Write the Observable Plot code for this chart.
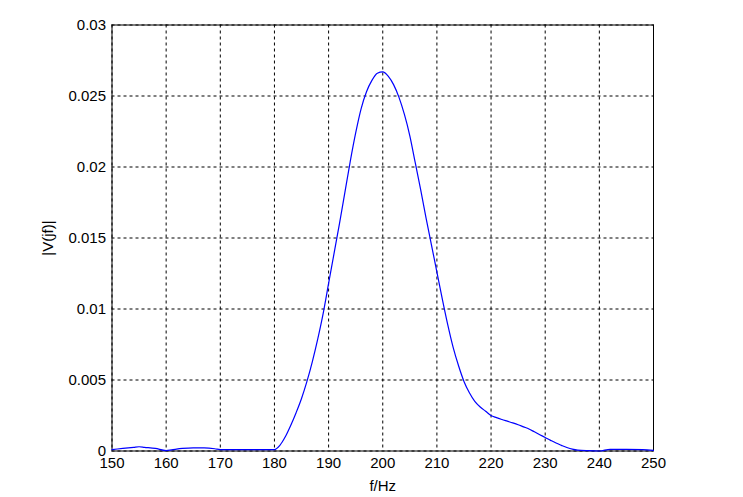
<!DOCTYPE html>
<html>
<head>
<meta charset="utf-8">
<script src="https://cdn.jsdelivr.net/npm/d3@7"></script>
<script src="https://cdn.jsdelivr.net/npm/@observablehq/plot@0.6"></script>
<style>
  html, body { margin: 0; padding: 0; background: #fff; }
  svg { display: block; }
</style>
</head>
<body>
<div id="chart"></div>
<script>
const freqs = [150, 152, 154, 155, 156, 158, 160, 161, 163, 165, 167, 169, 170, 172, 175, 178, 180,
  181, 182, 183, 184, 185, 186, 187, 188, 189, 190, 191, 192, 193, 194, 195, 196, 197, 198, 199, 200,
  201, 202, 203, 204, 205, 206, 207, 208, 209, 210, 211, 212, 213, 214, 215, 216, 217, 218, 219, 220,
  221, 222, 223, 224, 225, 226, 227, 228, 229, 230, 231, 232, 233, 234, 235, 236, 238, 240, 242, 245, 248, 250];
const amps = [0.0001, 0.00018, 0.00026, 0.0003, 0.00026, 0.00018, 0.00003, 0.00008, 0.00018, 0.00022, 0.00022, 0.00016, 0.0001, 0.0001, 0.0001, 0.0001, 0.0001,
  0.0004, 0.001, 0.0018, 0.0027, 0.0037, 0.0049, 0.0063, 0.0079, 0.0097, 0.0118, 0.0139, 0.016, 0.0182, 0.0204, 0.0224, 0.0241, 0.0253, 0.0261, 0.0266, 0.0267,
  0.0264, 0.0258, 0.0249, 0.0237, 0.0222, 0.0203, 0.0184, 0.0164, 0.0145, 0.0126, 0.0107, 0.0089, 0.0073, 0.0060, 0.0049, 0.0041, 0.0035, 0.0031, 0.0028, 0.0025,
  0.00235, 0.00222, 0.0021, 0.00198, 0.00185, 0.0017, 0.00155, 0.00135, 0.00115, 0.00095, 0.00075, 0.00056, 0.0004, 0.00025, 0.00013, 0.00006, 0.00002, 0.0, 0.00012, 0.00012, 0.0001, 0.00005];
const xTicks = [150, 160, 170, 180, 190, 200, 210, 220, 230, 240, 250];
const yTicks = [0, 0.005, 0.01, 0.015, 0.02, 0.025, 0.03];
const xLabel = "f/Hz";
const yLabel = "|V(jf)|";

const data = freqs.map((f, i) => ({f, v: amps[i]}));

const chart = Plot.plot({
  width: 743,
  height: 497,
  marginLeft: 111.5,
  marginRight: 90,
  marginTop: 24.5,
  marginBottom: 46.5,
  style: {fontFamily: "'Liberation Sans', Arial, sans-serif", fontSize: "15px", color: "#000", background: "#fff"},
  x: {domain: [150, 250]},
  y: {domain: [0, 0.03]},
  marks: [
    Plot.gridX(xTicks, {stroke: "#000", strokeOpacity: 1, strokeDasharray: "3,3", strokeWidth: 1}),
    Plot.gridY(yTicks, {stroke: "#000", strokeOpacity: 1, strokeDasharray: "3,3", strokeWidth: 1}),
    Plot.frame({stroke: "#000", strokeWidth: 1}),
    Plot.axisX(xTicks, {tickSize: 0, tickPadding: 6, label: xLabel, labelAnchor: "center", labelArrow: "none", labelOffset: 40, tickFormat: d => String(d)}),
    Plot.axisY(yTicks, {tickSize: 0, tickPadding: 6, label: yLabel, labelAnchor: "center", labelArrow: "none", labelOffset: 70, tickFormat: d => String(+d.toFixed(4))}),
    Plot.line(data, {x: "f", y: "v", stroke: "#0000ff", strokeWidth: 1.2, curve: "monotone-x"})
  ]
});
document.getElementById("chart").appendChild(chart);
</script>
</body>
</html>
